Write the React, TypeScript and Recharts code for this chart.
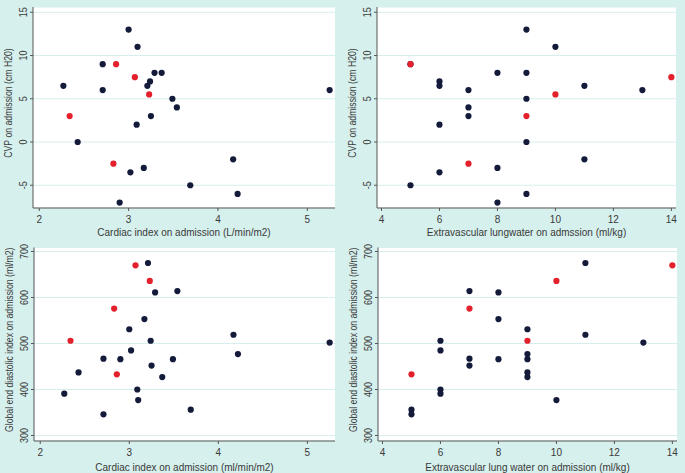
import React from 'react';
import { ScatterChart, Scatter, XAxis, YAxis, CartesianGrid } from 'recharts';

type Pair = [number, number];

// Cardiac index (x) vs CVP (y)
const ciCvpNavy: Pair[] = [
  [3.0, 13], [3.1, 11], [2.71, 9], [3.29, 8], [3.37, 8], [3.24, 7], [3.21, 6.5], [2.27, 6.5],
  [2.71, 6], [5.25, 6], [3.49, 5], [3.54, 4], [3.25, 3], [3.09, 2], [2.43, 0], [4.17, -2],
  [3.17, -3], [3.02, -3.5], [3.69, -5], [4.22, -6], [2.9, -7],
];
const ciCvpRed: Pair[] = [[2.86, 9], [3.07, 7.5], [3.23, 5.5], [2.34, 3], [2.83, -2.5]];

// Extravascular lung water (x) vs CVP (y)
const evlwCvpNavy: Pair[] = [
  [9, 13], [10, 11], [5, 9], [8, 8], [9, 8], [6, 7], [6, 6.5], [11, 6.5], [7, 6], [13, 6],
  [9, 5], [7, 4], [7, 3], [6, 2], [9, 0], [11, -2], [8, -3], [6, -3.5], [5, -5], [9, -6], [8, -7],
];
const evlwCvpRed: Pair[] = [[5, 9], [14, 7.5], [10, 5.5], [9, 3], [7, -2.5]];

// Cardiac index (x) vs GEDI (y)
const ciGediNavy: Pair[] = [
  [3.21, 675], [3.29, 611], [3.54, 614], [3.17, 553], [3.0, 531], [4.17, 519], [3.24, 506],
  [5.25, 502], [3.02, 485], [4.22, 477], [2.71, 467], [2.9, 466], [3.49, 466], [3.25, 452],
  [2.43, 437], [3.37, 427], [3.09, 400], [2.27, 391], [3.1, 377], [3.69, 356], [2.71, 346],
];
const ciGediRed: Pair[] = [[3.07, 670], [3.23, 636], [2.83, 576], [2.34, 506], [2.86, 433]];

// Extravascular lung water (x) vs GEDI (y)
const evlwGediNavy: Pair[] = [
  [11, 675], [7, 614], [8, 611], [8, 553], [9, 531], [11, 519], [6, 506], [13, 502], [6, 485],
  [9, 477], [7, 467], [8, 466], [9, 466], [7, 452], [9, 437], [9, 427], [6, 400], [6, 391],
  [10, 377], [5, 356], [5, 346],
];
const evlwGediRed: Pair[] = [[14, 670], [10, 636], [7, 576], [9, 506], [5, 433]];

const ciTicks = [2, 3, 4, 5];
const evlwTicks = [4, 6, 8, 10, 12, 14];
const cvpTicks = [-5, 0, 5, 10, 15];
const gediTicks = [300, 400, 500, 600, 700];

const toPoints = (a: Pair[]) => a.map(([x, y]) => ({ x, y }));

const FONT = '"Liberation Sans", Arial, sans-serif';
const TEXT = '#3a3a3a';
const AXIS = '#555555';
const NAVY = '#141a3a';
const RED = '#e3202b';
const BG = '#d6f0ed';
const GRID = '#d6efec';

const XTick = (p: any) => (
  <text x={p.x} y={p.y + 11.5} textAnchor="middle" fontSize={10} fontFamily={FONT} fill={TEXT}>
    {String(p.payload.value)}
  </text>
);

const YTick = (p: any) => {
  const bx = p.x - 3;
  return (
    <text x={0} y={0} transform={`translate(${bx} ${p.y}) rotate(-90) scale(0.9 1)`} textAnchor="middle" fontSize={10} fontFamily={FONT} fill={TEXT}>
      {String(p.payload.value)}
    </text>
  );
};

const XTitle = (p: any) => {
  const vb = p.viewBox || {};
  return (
    <text x={vb.x + vb.width / 2} y={vb.y + p.dy} textAnchor="middle" fontSize={10} fontFamily={FONT} fill={TEXT}>
      {p.text}
    </text>
  );
};

const YTitle = (p: any) => {
  const vb = p.viewBox || {};
  const bx = vb.x + vb.width - 21;
  const cy = vb.y + vb.height / 2 - 4.5;
  return (
    <text x={0} y={0} transform={`translate(${bx} ${cy}) rotate(-90) scale(0.87 1)`} textAnchor="middle" fontSize={10} fontFamily={FONT} fill={TEXT}>
      {p.text}
    </text>
  );
};

const dot = (color: string) => (props: any) => <circle cx={props.cx} cy={props.cy} r={3.1} fill={color} />;

type PanelProps = {
  left: number; top: number; width: number; height: number;
  margin: { top: number; right: number; bottom: number; left: number };
  yAxisWidth: number; xAxisHeight: number;
  xDomain: [number, number]; xTicks: number[];
  yDomain: [number, number]; yTicks: number[];
  navy: Pair[]; red: Pair[];
  xTitle: string; yTitle: string; xTitleDy: number;
};

function Panel(pp: PanelProps) {
  return (
    <div style={{ position: 'absolute', left: pp.left, top: pp.top }}>
      <ScatterChart width={pp.width} height={pp.height} margin={pp.margin}>
        <CartesianGrid horizontal vertical={false} stroke={GRID} fill="#ffffff" />
        <XAxis
          type="number" dataKey="x" domain={pp.xDomain} ticks={pp.xTicks} allowDataOverflow
          height={pp.xAxisHeight} tickSize={3} tickMargin={0}
          axisLine={{ stroke: AXIS }} tickLine={{ stroke: AXIS }} tick={<XTick />}
          label={<XTitle text={pp.xTitle} dy={pp.xTitleDy} />}
        />
        <YAxis
          type="number" dataKey="y" domain={pp.yDomain} ticks={pp.yTicks} allowDataOverflow
          width={pp.yAxisWidth} tickSize={3} tickMargin={0}
          axisLine={{ stroke: AXIS }} tickLine={{ stroke: AXIS }} tick={<YTick />}
          label={<YTitle text={pp.yTitle} />}
        />
        <Scatter data={toPoints(pp.navy)} shape={dot(NAVY)} isAnimationActive={false} />
        <Scatter data={toPoints(pp.red)} shape={dot(RED)} isAnimationActive={false} />
      </ScatterChart>
    </div>
  );
}

export default function App() {
  return (
    <div style={{ position: 'absolute', left: 0, top: 0, width: 685, height: 473, background: BG, overflow: 'hidden' }}>
      <Panel
        left={0} top={0} width={340} height={240}
        margin={{ top: 7, right: 5, bottom: 0, left: 0 }} yAxisWidth={33} xAxisHeight={32}
        xDomain={[1.93, 5.31]} xTicks={ciTicks} yDomain={[-7.63, 15.61]} yTicks={cvpTicks}
        navy={ciCvpNavy} red={ciCvpRed}
        xTitle="Cardiac index on admission (L/min/m2)" yTitle="CVP on admission (cm H20)" xTitleDy={28}
      />
      <Panel
        left={340} top={0} width={345} height={240}
        margin={{ top: 7, right: 9, bottom: 0, left: 0 }} yAxisWidth={37} xAxisHeight={32}
        xDomain={[3.845, 14.16]} xTicks={evlwTicks} yDomain={[-7.63, 15.61]} yTicks={cvpTicks}
        navy={evlwCvpNavy} red={evlwCvpRed}
        xTitle="Extravascular lungwater on admssion (ml/kg)" yTitle="CVP on admission (cm H20)" xTitleDy={28}
      />
      <Panel
        left={0} top={240} width={340} height={233}
        margin={{ top: 7.5, right: 5, bottom: 0, left: 0 }} yAxisWidth={34} xAxisHeight={32}
        xDomain={[1.93, 5.31]} xTicks={ciTicks} yDomain={[288, 708.7]} yTicks={gediTicks}
        navy={ciGediNavy} red={ciGediRed}
        xTitle="Cardiac index on admission (ml/min/m2)" yTitle="Global end diastolic index on admission (ml/m2)" xTitleDy={29.5}
      />
      <Panel
        left={340} top={240} width={345} height={233}
        margin={{ top: 7.5, right: 8, bottom: 0, left: 0 }} yAxisWidth={38} xAxisHeight={32}
        xDomain={[3.845, 14.16]} xTicks={evlwTicks} yDomain={[288, 708.7]} yTicks={gediTicks}
        navy={evlwGediNavy} red={evlwGediRed}
        xTitle="Extravascular lung water on admission (ml/kg)" yTitle="Global end diastolic index on admission (ml/m2)" xTitleDy={29.5}
      />
    </div>
  );
}
